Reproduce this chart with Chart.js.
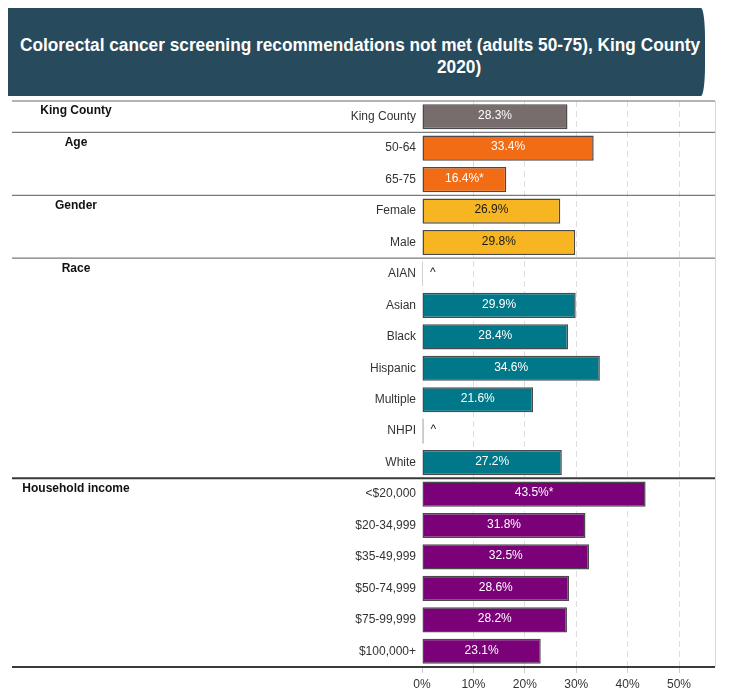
<!DOCTYPE html>
<html>
<head>
<meta charset="utf-8">
<script src="https://cdn.jsdelivr.net/npm/chart.js@4"></script>
<style>
body { margin: 0; background: #fff; }
#wrap { position: relative; width: 734px; height: 696px; }
#banner { position: absolute; left: 8px; top: 8px; width: 697px; height: 88px; background: #274b5c;
  border-top-right-radius: 4px 30px; border-bottom-right-radius: 4px 30px; }
#banner span { position: absolute; color: #fff; white-space: nowrap; transform-origin: 0 0;
  font: bold 18px "Liberation Sans", Arial, sans-serif; }
#t1 { left: 12px; top: 27px; }
#t2 { left: 429px; top: 49px; }
canvas { position: absolute; left: 0; top: 0; }
</style>
</head>
<body>
<div id="wrap">
  <canvas id="myChart" width="734" height="696"></canvas>
  <div id="banner">
    <span id="t1">Colorectal cancer screening recommendations not met (adults 50-75), King County</span>
    <span id="t2">2020)</span>
  </div>
</div>
<script>
var categories = ['King County', '50-64', '65-75', 'Female', 'Male', 'AIAN', 'Asian', 'Black', 'Hispanic',
  'Multiple', 'NHPI', 'White', '<$20,000', '$20-34,999', '$35-49,999', '$50-74,999', '$75-99,999', '$100,000+'];
var values = [28.3, 33.4, 16.4, 26.9, 29.8, 0.2, 29.9, 28.4, 34.6, 21.6, 0.3, 27.2, 43.5, 31.8, 32.5, 28.6, 28.2, 23.1];
// * = flagged estimate, ^ = suppressed
var flagged = [false, false, true, false, false, false, false, false, false, false, false, false, true, false, false, false, false, false];
var suppressed = [false, false, false, false, false, true, false, false, false, false, true, false, false, false, false, false, false, false];
var groupNames = ['King County', 'Age', 'Gender', 'Race', 'Household income'];
var groupSizes = [1, 2, 2, 7, 6];
var xTicks = [0, 10, 20, 30, 40, 50];

var groupColors = ['#786d6d', '#f26b15', '#f7b521', '#00788a', '#7a0177'];
var groupTextColors = ['#ffffff', '#ffffff', '#1a1a1a', '#ffffff', '#ffffff'];

// title is set in the condensed look: squeeze the line to fit the banner
var t1 = document.getElementById('t1');
var t2 = document.getElementById('t2');
var squeeze = 680 / t1.offsetWidth;
t1.style.transform = 'scaleX(' + squeeze + ')';
t2.style.transform = 'scaleX(' + squeeze + ')';

// which group each row belongs to
var rowGroup = [];
groupSizes.forEach(function (n, g) {
  for (var i = 0; i < n; i++) rowGroup.push(g);
});

Chart.defaults.font.family = '"Liberation Sans", Arial, sans-serif';
Chart.defaults.font.size = 12;

var groupPlugin = {
  id: 'groups',
  afterDatasetsDraw: function (chart) {
    var ctx = chart.ctx;
    var meta = chart.getDatasetMeta(0);
    ctx.save();
    ctx.font = '12px "Liberation Sans", Arial, sans-serif';
    ctx.textBaseline = 'middle';
    meta.data.forEach(function (bar, i) {
      if (suppressed[i]) {
        ctx.fillStyle = '#222';
        ctx.textAlign = 'left';
        ctx.fillText('^', bar.x + 7, bar.y - 1);
        return;
      }
      var label = values[i].toFixed(1) + '%' + (flagged[i] ? '*' : '');
      ctx.fillStyle = groupTextColors[rowGroup[i]];
      ctx.textAlign = 'center';
      ctx.fillText(label, (bar.base + bar.x) / 2, bar.y - 1);
    });
    ctx.restore();
  },
  afterDraw: function (chart) {
    var ctx = chart.ctx;
    var area = chart.chartArea;
    var rowH = (area.bottom - area.top) / categories.length;
    ctx.save();
    // right frame line
    ctx.strokeStyle = '#d8d8d8';
    ctx.lineWidth = 1;
    ctx.beginPath();
    ctx.moveTo(area.right + 0.5, area.top);
    ctx.lineTo(area.right + 0.5, area.bottom);
    ctx.stroke();

    var start = 0;
    var bounds = [0];
    groupSizes.forEach(function (n) { start += n; bounds.push(start); });
    bounds.forEach(function (k, j) {
      var y = area.top + k * rowH;
      var dark = j >= bounds.length - 2;
      ctx.strokeStyle = dark ? '#3a3a3a' : (j === 0 ? '#9a9a9a' : '#7a7a7a');
      ctx.lineWidth = dark ? 2 : 1.3;
      ctx.beginPath();
      ctx.moveTo(12, y);
      ctx.lineTo(area.right, y);
      ctx.stroke();
    });

    ctx.fillStyle = '#111';
    ctx.font = 'bold 12px "Liberation Sans", Arial, sans-serif';
    ctx.textAlign = 'center';
    ctx.textBaseline = 'middle';
    groupNames.forEach(function (name, g) {
      ctx.fillText(name, 76, area.top + bounds[g] * rowH + 10);
    });
    ctx.restore();
  }
};

const ctx = document.getElementById('myChart');

new Chart(ctx, {
  type: 'bar',
  data: {
    labels: categories,
    datasets: [{
      label: 'not met',
      data: values,
      backgroundColor: rowGroup.map(function (g) { return groupColors[g]; }),
      borderColor: '#4a4a4a',
      borderWidth: 1.5,
      borderSkipped: false,
      barPercentage: 0.8,
      categoryPercentage: 1
    }]
  },
  options: {
    indexAxis: 'y',
    responsive: false,
    animation: false,
    layout: { padding: { top: 101, right: 19, bottom: 0, left: 0 } },
    plugins: {
      legend: { display: false },
      tooltip: { enabled: false }
    },
    scales: {
      x: {
        type: 'linear',
        min: 0,
        max: 57,
        afterFit: function (s) { s.height = 29; },
        afterBuildTicks: function (s) { s.ticks = xTicks.map(function (v) { return { value: v }; }); },
        ticks: {
          color: '#333',
          padding: 4,
          callback: function (v) { return v + '%'; }
        },
        grid: {
          color: function (c) { return c.tick && c.tick.value === 0 ? 'rgba(0,0,0,0)' : '#dedede'; },
          tickColor: '#cccccc',
          tickLength: 6,
          lineWidth: 1
        },
        border: { display: false, dash: [6, 4] }
      },
      y: {
        afterFit: function (s) { s.width = 422; },
        ticks: { color: '#333', padding: 6 },
        grid: { display: false, drawTicks: false },
        border: { display: false }
      }
    }
  },
  plugins: [groupPlugin]
});
</script>
</body>
</html>
